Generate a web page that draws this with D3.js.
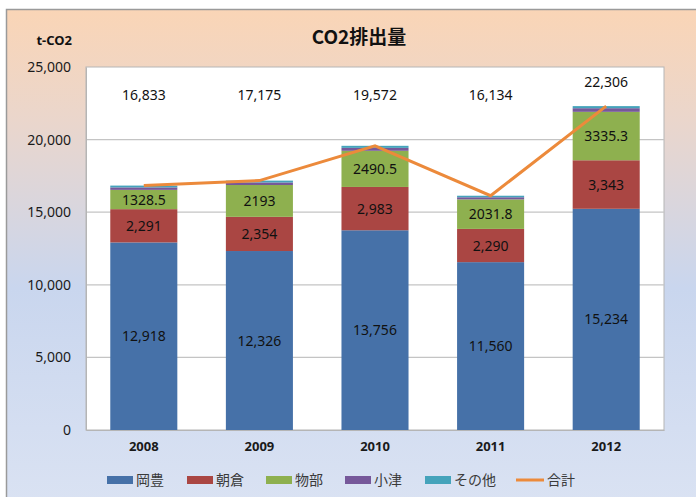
<!DOCTYPE html>
<html>
<head>
<meta charset="utf-8">
<script src="https://d3js.org/d3.v7.min.js"></script>
<style>
    body { margin: 0; background: #fff; }
    svg text { font-family: "Noto Sans", "Noto Sans CJK JP", sans-serif; }
</style>
</head>
<body>
<svg id="chart"></svg>
<script>
    // data
    var years = ["2008", "2009", "2010", "2011", "2012"]
    var okou = [12918, 12326, 13756, 11560, 15234]      // 岡豊
    var asakura = [2291, 2354, 2983, 2290, 3343]        // 朝倉
    var monobe = [1328.5, 2193, 2490.5, 2031.8, 3335.3] // 物部
    var ozu = [170, 175, 200, 145, 250]                 // 小津
    var others = [125.5, 127, 142.5, 107.2, 143.7]      // その他
    var totals = [16833, 17175, 19572, 16134, 22306]    // 合計
    var seriesNames = ["岡豊", "朝倉", "物部", "小津", "その他"]
    var yTicks = [0, 5000, 10000, 15000, 20000, 25000]

    var colors = ["#4671a8", "#aa4643", "#8eb04f", "#76589a", "#45a3bb"]
    var lineColor = "#ec8a3b"

    var W = 696, H = 497
    var plot = {left: 86, top: 67, right: 664, bottom: 430}

    var svg = d3.select("#chart").attr("width", W).attr("height", H)

    // background gradient
    var grad = svg.append("defs").append("linearGradient")
        .attr("id", "bg").attr("x1", 0).attr("y1", 0).attr("x2", 0).attr("y2", 1)
    grad.append("stop").attr("offset", "0%").attr("stop-color", "#fad5b6")
    grad.append("stop").attr("offset", "22%").attr("stop-color", "#ead6cc")
    grad.append("stop").attr("offset", "55%").attr("stop-color", "#c9d6ee")
    grad.append("stop").attr("offset", "100%").attr("stop-color", "#dbe3f3")

    svg.append("rect")
        .attr("x", 6.5).attr("y", 9.5)
        .attr("width", W + 10).attr("height", H + 10)
        .attr("fill", "url(#bg)")
        .attr("stroke", "#9a9a9a").attr("stroke-width", 1.5)

    // plot area
    svg.append("rect")
        .attr("x", plot.left).attr("y", plot.top)
        .attr("width", plot.right - plot.left).attr("height", plot.bottom - plot.top)
        .attr("fill", "#fff").attr("stroke", "#b5b5b5")

    var x = d3.scaleBand().domain(years).range([plot.left, plot.right])
        .paddingInner(0.42).paddingOuter(0.21)
    var y = d3.scaleLinear().domain([0, 25000]).range([plot.bottom, plot.top])

    // gridlines
    svg.append("g").selectAll("line")
        .data(yTicks.slice(1, -1))
        .join("line")
        .attr("x1", plot.left).attr("x2", plot.right)
        .attr("y1", d => y(d)).attr("y2", d => y(d))
        .attr("stroke", "#c4c4c4").attr("stroke-width", 1.2)

    // y axis
    var yAxis = svg.append("g")
        .attr("transform", "translate(" + plot.left + ",0)")
        .call(d3.axisLeft(y).tickValues(yTicks).tickFormat(d3.format(",")).tickSize(0).tickPadding(15))
    yAxis.select(".domain").attr("stroke", "#b5b5b5")
    yAxis.selectAll("text").style("font-size", "14px").attr("fill", "#1a1a1a")
        .attr("font-family", "Noto Sans")

    // x axis
    var xAxis = svg.append("g")
        .attr("transform", "translate(0," + plot.bottom + ")")
        .call(d3.axisBottom(x).tickSize(0).tickPadding(12))
    xAxis.select(".domain").attr("stroke", "#b5b5b5")
    xAxis.selectAll("text").style("font-size", "13px").style("font-weight", "bold")
        .attr("fill", "#1a1a1a")

    // stacked bars
    var table = years.map((yr, i) => ({
        year: yr, "岡豊": okou[i], "朝倉": asakura[i], "物部": monobe[i],
        "小津": ozu[i], "その他": others[i]
    }))
    var stack = d3.stack().keys(seriesNames)(table)

    svg.append("g").selectAll("g")
        .data(stack)
        .join("g")
        .attr("fill", (d, i) => colors[i])
        .selectAll("rect")
        .data(d => d)
        .join("rect")
        .attr("x", d => x(d.data.year))
        .attr("y", d => y(d[1]))
        .attr("width", x.bandwidth())
        .attr("height", d => y(d[0]) - y(d[1]))

    // segment labels (岡豊, 朝倉 with commas, 物部 raw)
    var labelValues = [okou, asakura, monobe]
    var fmt = [d3.format(","), d3.format(","), d => String(d)]
    stack.slice(0, 3).forEach((layer, k) => {
        svg.append("g").selectAll("text")
            .data(layer)
            .join("text")
            .attr("x", d => x(d.data.year) + x.bandwidth() / 2)
            .attr("y", d => y((d[0] + d[1]) / 2))
            .attr("dy", "0.36em")
            .attr("text-anchor", "middle")
            .style("font-size", "14px")
            .attr("fill", "#111")
            .text((d, i) => fmt[k](labelValues[k][i]))
    })

    // total line
    var line = d3.line()
        .x((d, i) => x(years[i]) + x.bandwidth() / 2)
        .y(d => y(d))
    svg.append("path")
        .datum(totals)
        .attr("d", line)
        .attr("fill", "none")
        .attr("stroke", lineColor)
        .attr("stroke-width", 3)

    // total labels
    svg.append("g").selectAll("text")
        .data(totals)
        .join("text")
        .attr("x", (d, i) => x(years[i]) + x.bandwidth() / 2)
        .attr("y", d => Math.min(y(d) - 24, y(23100)))
        .attr("dy", "0.36em")
        .attr("text-anchor", "middle")
        .style("font-size", "14px")
        .attr("fill", "#111")
        .text(d => d3.format(",")(d))

    // titles
    svg.append("text")
        .attr("x", 359).attr("y", 37).attr("dy", "0.36em")
        .attr("text-anchor", "middle")
        .style("font-family", "'Noto Sans CJK JP'")
        .style("font-size", "19px").style("font-weight", "bold")
        .attr("fill", "#111")
        .text("CO2排出量")
    svg.append("text")
        .attr("x", 72).attr("y", 40).attr("dy", "0.36em")
        .attr("text-anchor", "end")
        .style("font-size", "13px").style("font-weight", "bold")
        .attr("fill", "#111")
        .text("t-CO2")

    // legend
    var legendX = [107, 187, 266, 345, 425, 516]
    var legendNames = seriesNames.concat(["合計"])
    var leg = svg.append("g").selectAll("g")
        .data(legendNames)
        .join("g")
        .attr("transform", (d, i) => "translate(" + legendX[i] + ",480)")
    leg.each(function(d, i) {
        var g = d3.select(this)
        if (i < 5) {
            g.append("rect").attr("x", 0).attr("y", -4).attr("width", 26).attr("height", 8)
                .attr("fill", colors[i])
        } else {
            g.append("line").attr("x1", 0).attr("x2", 28).attr("y1", 0).attr("y2", 0)
                .attr("stroke", lineColor).attr("stroke-width", 3)
        }
        g.append("text")
            .attr("x", i < 5 ? 29 : 31).attr("dy", "0.36em")
            .style("font-family", "'Noto Sans CJK JP'")
            .style("font-size", "14px")
            .attr("fill", "#3a3a3a")
            .text(d)
    })
</script>
</body>
</html>
